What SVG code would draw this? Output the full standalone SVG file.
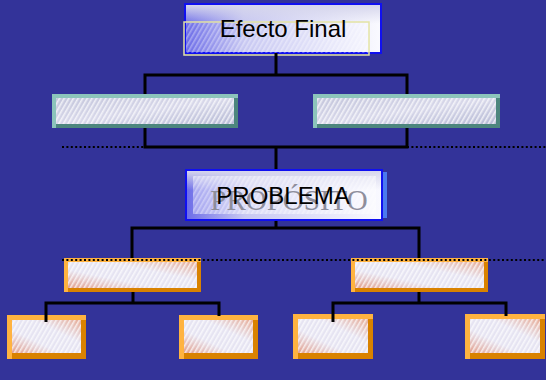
<svg xmlns="http://www.w3.org/2000/svg" width="546" height="380" viewBox="0 0 546 380">
<defs>
<pattern id="stripes" width="4" height="4" patternUnits="userSpaceOnUse" patternTransform="rotate(30)">
<rect width="1.6" height="4" fill="#ffffff" fill-opacity="0.7"/>
</pattern>
<linearGradient id="gTeal" x1="0" y1="0" x2="1" y2="1">
<stop offset="0" stop-color="#c4c6dc"/><stop offset="0.5" stop-color="#d8d8ea"/><stop offset="1" stop-color="#b8bcd6"/>
</linearGradient>
<linearGradient id="gOrange" x1="0" y1="1" x2="1" y2="0">
<stop offset="0" stop-color="#e4a08c"/><stop offset="0.35" stop-color="#e6e4f2"/><stop offset="0.65" stop-color="#e6e4f2"/><stop offset="1" stop-color="#e8ac96"/>
</linearGradient>
<linearGradient id="gBlue" x1="0" y1="0" x2="1" y2="0">
<stop offset="0" stop-color="#6c6ce8"/><stop offset="0.3" stop-color="#c8c8f2"/><stop offset="1" stop-color="#fafaff"/>
</linearGradient>
<linearGradient id="gBlueTop" x1="0" y1="0" x2="0" y2="1">
<stop offset="0" stop-color="#d6d6ec" stop-opacity="1"/><stop offset="0.4" stop-color="#d6d6ec" stop-opacity="0"/>
</linearGradient>
</defs>
<style>
.bg{fill:#333399}
.line{stroke:#000;stroke-width:3;fill:none}
.dot{stroke:#000;stroke-width:2;stroke-dasharray:2 2.4;fill:none}
.txt{font-family:"Liberation Sans",Arial,sans-serif;font-size:24px;fill:#000;text-anchor:middle}
.ghost{font-family:"Liberation Serif","Times New Roman",serif;font-size:29px;fill:#8e8e9c;text-anchor:middle}
.str{fill:url(#stripes)}
.tl{fill:#8cc4bb}.tdk{fill:#4d867e}.tin{fill:url(#gTeal)}
.ol{fill:#ffb340}.odk{fill:#d98200}.oin{fill:url(#gOrange)}
.bframe{fill:url(#gBlue);stroke:#1010f0;stroke-width:2}
.btop{fill:url(#gBlueTop)}
</style>
<rect class="bg" width="546" height="380"/>

<g id="efecto-final">
<rect class="bframe" x="185" y="4" width="196" height="49"/>
<rect class="btop" x="186" y="5" width="194" height="47"/>
<rect x="184" y="22" width="185" height="33" fill="none" stroke="#e4e4a4" stroke-width="1.5"/>
<rect class="str" x="186" y="23" width="182" height="30" opacity="0.5"/>
<text class="txt" x="283" y="37">Efecto Final</text>
</g>

<g id="efecto-1">
<rect class="tl" x="52" y="94" width="186" height="34"/>
<rect class="tdk" x="56" y="98" width="182" height="30"/>
<rect class="tin" x="56" y="98" width="178" height="26"/>
<rect class="str" x="56" y="98" width="178" height="26"/>
</g>
<g id="efecto-2">
<rect class="tl" x="313" y="94" width="187" height="34"/>
<rect class="tdk" x="317" y="98" width="183" height="30"/>
<rect class="tin" x="317" y="98" width="179" height="26"/>
<rect class="str" x="317" y="98" width="179" height="26"/>
</g>

<g id="problema">
<rect x="188" y="172" width="199" height="46" fill="#4a7af0"/>
<rect class="bframe" x="186" y="170" width="196" height="50"/>
<rect class="btop" x="187" y="171" width="194" height="48"/>
<rect x="193" y="176" width="183" height="38" fill="#ffffff" fill-opacity="0.35"/>
<rect class="str" x="193" y="176" width="183" height="38" opacity="0.5"/>
<text class="ghost" x="289" y="210">PROPÓSITO</text>
<text class="txt" x="283" y="204">PROBLEMA</text>
</g>

<g id="causa-1">
<rect class="ol" x="64" y="258" width="137" height="34"/>
<rect class="odk" x="68" y="262" width="133" height="30"/>
<rect class="oin" x="68" y="262" width="129" height="26"/>
<rect class="str" x="68" y="262" width="129" height="26"/>
</g>
<g id="causa-2">
<rect class="ol" x="351" y="258" width="137" height="34"/>
<rect class="odk" x="355" y="262" width="133" height="30"/>
<rect class="oin" x="355" y="262" width="129" height="26"/>
<rect class="str" x="355" y="262" width="129" height="26"/>
</g>

<g id="subcausa-1">
<rect class="ol" x="7" y="315" width="79" height="44"/>
<rect class="odk" x="12" y="320" width="74" height="39"/>
<rect class="oin" x="12" y="320" width="69" height="33"/>
<rect class="str" x="12" y="320" width="69" height="33"/>
</g>
<g id="subcausa-2">
<rect class="ol" x="179" y="315" width="79" height="44"/>
<rect class="odk" x="184" y="320" width="74" height="39"/>
<rect class="oin" x="184" y="320" width="69" height="33"/>
<rect class="str" x="184" y="320" width="69" height="33"/>
</g>
<g id="subcausa-3">
<rect class="ol" x="293" y="314" width="80" height="45"/>
<rect class="odk" x="298" y="319" width="75" height="40"/>
<rect class="oin" x="298" y="319" width="70" height="34"/>
<rect class="str" x="298" y="319" width="70" height="34"/>
</g>
<g id="subcausa-4">
<rect class="ol" x="465" y="314" width="80" height="45"/>
<rect class="odk" x="470" y="319" width="75" height="40"/>
<rect class="oin" x="470" y="319" width="70" height="34"/>
<rect class="str" x="470" y="319" width="70" height="34"/>
</g>

<g id="connectors">
<path class="line" d="M276 53 V75"/>
<path class="line" d="M145 94 V75 H407 V94"/>
<path class="line" d="M145 128 V147 H407 V128"/>
<path class="line" d="M276 147 V169"/>
<path class="line" d="M276 221 V228"/>
<path class="line" d="M132 258 V228 H419 V258"/>
<path class="line" d="M133 292 V303"/>
<path class="line" d="M46 322 V303 H219 V316"/>
<path class="line" d="M419 292 V303"/>
<path class="line" d="M333 322 V303 H506 V316"/>
<path class="dot" d="M62 147 H145"/>
<path class="dot" d="M407 147 H546"/>
<path class="dot" d="M62 260 H546"/>
</g>
</svg>
